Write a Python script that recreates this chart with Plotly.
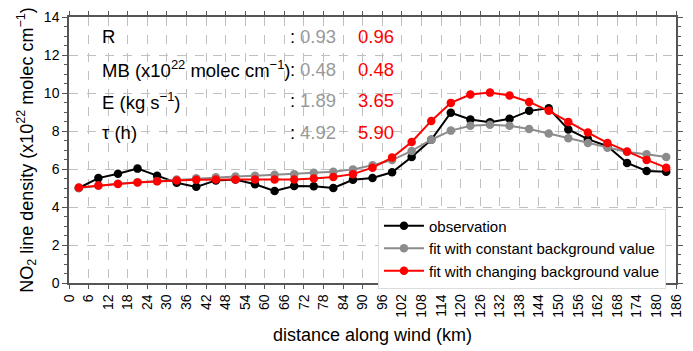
import plotly.graph_objects as go

# Distance along wind (km), bin centres
distance = [3, 9, 15, 21, 27, 33, 39, 45, 51, 57, 63, 69, 75, 81, 87, 93, 99, 105,
            111, 117, 123, 129, 135, 141, 147, 153, 159, 165, 171, 177, 183]

# NO2 line density (x10^22 molec cm^-1)
observation = [5.0, 5.52, 5.75, 6.02, 5.65, 5.28, 5.06, 5.4, 5.45, 5.2, 4.84, 5.11,
               5.09, 5.0, 5.43, 5.53, 5.83, 6.63, 7.54, 8.96, 8.61, 8.46, 8.64, 9.06,
               9.2, 8.08, 7.57, 7.2, 6.32, 5.9, 5.86]
fit_constant = [5.0, 5.12, 5.22, 5.3, 5.36, 5.45, 5.51, 5.56, 5.6, 5.65, 5.7, 5.73,
                5.8, 5.86, 5.98, 6.2, 6.47, 6.95, 7.54, 8.02, 8.28, 8.33, 8.28, 8.11,
                7.87, 7.62, 7.37, 7.12, 6.9, 6.78, 6.63]
fit_changing = [5.03, 5.13, 5.21, 5.29, 5.35, 5.4, 5.43, 5.45, 5.45, 5.45, 5.45, 5.45,
                5.5, 5.58, 5.73, 6.07, 6.6, 7.42, 8.53, 9.48, 9.92, 10.02, 9.87, 9.53,
                9.06, 8.48, 7.92, 7.37, 6.92, 6.48, 6.07]

# Fit statistics
stat_labels = ["R", "MB (x10<sup>22</sup> molec cm<sup>−1</sup>)", "E (kg s<sup>−1</sup>)", "τ (h)"]
stat_constant = ["0.93", "0.48", "1.89", "4.92"]
stat_changing = ["0.96", "0.48", "3.65", "5.90"]
stat_rows_y = [12.95, 11.25, 9.6, 7.9]

x_ticks = list(range(0, 187, 6))

FONT = "Liberation Sans, Arial, sans-serif"
GRAY = "#8c8c8c"

fig = go.Figure()
series = [
    ("observation", observation, "black"),
    ("fit with constant background value", fit_constant, GRAY),
    ("fit with changing background value", fit_changing, "#ff0000"),
]
for name, vals, col in series:
    fig.add_trace(go.Scatter(
        x=distance, y=vals, name=name, mode="lines+markers",
        line=dict(color=col, width=2),
        marker=dict(color=col, size=8.5),
    ))

annotations = []
for lab, vc, vr, yy in zip(stat_labels, stat_constant, stat_changing, stat_rows_y):
    annotations.append(dict(x=9.4, y=yy, text=lab, xanchor="left", showarrow=False,
                            font=dict(size=18.5, color="black", family=FONT)))
    annotations.append(dict(x=67.2, y=yy, text=":", xanchor="left", showarrow=False,
                            font=dict(size=18.5, color="black", family=FONT)))
    annotations.append(dict(x=70.3, y=yy, text=vc, xanchor="left", showarrow=False,
                            font=dict(size=18.5, color="#999999", family=FONT)))
    annotations.append(dict(x=87.8, y=yy, text=vr, xanchor="left", showarrow=False,
                            font=dict(size=18.5, color="#ff0000", family=FONT)))

fig.update_layout(
    width=693, height=351,
    margin=dict(l=69, r=9, t=12, b=60),
    paper_bgcolor="white", plot_bgcolor="white",
    font=dict(family=FONT, size=14, color="black"),
    showlegend=True,
    legend=dict(
        x=0.509, y=0.28, xanchor="left", yanchor="top",
        bgcolor="white", bordercolor="#dddddd", borderwidth=1,
        font=dict(size=15, family=FONT), tracegroupgap=0,
        itemwidth=40,
    ),
    annotations=annotations,
    xaxis=dict(
        range=[0, 186], tickmode="array", tickvals=x_ticks,
        ticktext=[str(v) for v in x_ticks], tickangle=-90,
        showgrid=True, gridcolor="#c0c0c0", griddash="dash", gridwidth=1,
        showline=True, linecolor="#555555", linewidth=1.5, mirror="ticks",
        ticks="outside", ticklen=4, tickcolor="#555555",
        tickfont=dict(size=14),
        zeroline=False,
        title=dict(text="distance along wind (km)", font=dict(size=18), standoff=12),
    ),
    yaxis=dict(
        range=[0, 14], dtick=2,
        showgrid=True, gridcolor="#c0c0c0", griddash="dash", gridwidth=1,
        showline=True, linecolor="#555555", linewidth=1.5, mirror="ticks",
        ticks="outside", ticklen=5, tickcolor="#555555",
        minor=dict(dtick=0.5, ticks="outside", ticklen=3, tickcolor="#555555", showgrid=False),
        tickfont=dict(size=14),
        zeroline=False,
        title=dict(text="NO<sub>2</sub> line density (x10<sup>22</sup> molec cm<sup>−1</sup>)",
                   font=dict(size=18), standoff=6),
    ),
)

fig.write_html("out.html")
